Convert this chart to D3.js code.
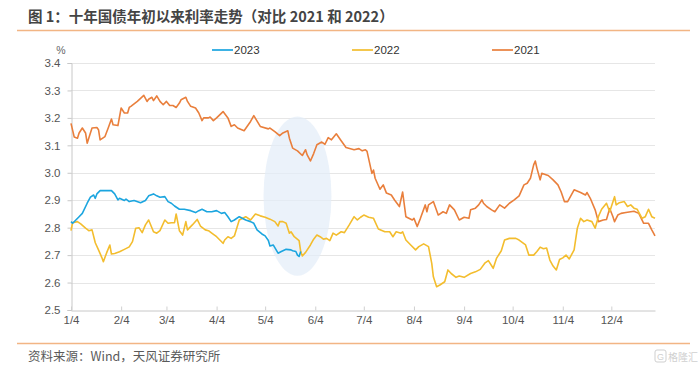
<!DOCTYPE html>
<html>
<head>
<meta charset="utf-8">
<script src="https://cdn.jsdelivr.net/npm/d3@7"></script>
<style>
  body { margin: 0; background: #fff; }
  svg { display: block; }
</style>
</head>
<body>
<svg id="chart"></svg>
<script>
// ---- data (month-day, 10Y CGB yield %) ----
const seriesNames = ["2023", "2022", "2021"];
const monthTicks = ["1/4", "2/4", "3/4", "4/4", "5/4", "6/4", "7/4", "8/4", "9/4", "10/4", "11/4", "12/4"];
const rateTicks = [2.5, 2.6, 2.7, 2.8, 2.9, 3.0, 3.1, 3.2, 3.3, 3.4];

const dates2023 = [
  "01-04", "01-05", "01-07", "01-09", "01-11", "01-14", "01-16", "01-18", "01-19", "01-20",
  "01-22", "01-25", "01-29", "01-31", "02-02", "02-03", "02-06", "02-07", "02-09", "02-12",
  "02-16", "02-19", "02-21", "02-24", "02-26", "02-28", "03-03", "03-05", "03-07", "03-09",
  "03-12", "03-15", "03-19", "03-22", "03-24", "03-26", "03-29", "04-01", "04-04", "04-07",
  "04-09", "04-11", "04-13", "04-15", "04-18", "04-22", "04-25", "04-27", "04-29", "05-02",
  "05-04", "05-06", "05-07", "05-09", "05-12", "05-14", "05-17", "05-20", "05-21", "05-23",
  "05-24", "05-25", "05-26"
];
const rates2023 = [
  2.822, 2.816, 2.828, 2.84, 2.852, 2.889, 2.911, 2.919, 2.907, 2.923,
  2.935, 2.935, 2.935, 2.923, 2.901, 2.907, 2.899, 2.904, 2.895, 2.899,
  2.891, 2.899, 2.916, 2.923, 2.916, 2.911, 2.913, 2.895, 2.889, 2.879,
  2.867, 2.867, 2.862, 2.855, 2.862, 2.867, 2.858, 2.858, 2.862, 2.852,
  2.855, 2.84, 2.822, 2.828, 2.84, 2.828, 2.822, 2.816, 2.792, 2.777,
  2.77, 2.753, 2.733, 2.737, 2.707, 2.713, 2.721, 2.719, 2.716, 2.713,
  2.70, 2.695, 2.713
];

const dates2022 = [
  "01-04", "01-05", "01-08", "01-10", "01-13", "01-15", "01-17", "01-19", "01-21", "01-23",
  "01-24", "01-26", "01-28", "01-29", "01-31", "02-03", "02-06", "02-09", "02-11", "02-13",
  "02-15", "02-17", "02-19", "02-21", "02-24", "02-26", "02-28", "03-03", "03-05", "03-07",
  "03-09", "03-10", "03-12", "03-14", "03-16", "03-17", "03-20", "03-23", "03-25", "03-28",
  "03-30", "04-01", "04-04", "04-08", "04-09", "04-11", "04-13", "04-15", "04-18", "04-22",
  "04-25", "04-28", "05-01", "05-04", "05-07", "05-10", "05-12", "05-13", "05-15", "05-17",
  "05-19", "05-20", "05-22", "05-25", "05-26", "05-27", "05-29", "06-01", "06-03", "06-05",
  "06-07", "06-09", "06-11", "06-13", "06-15", "06-17", "06-20", "06-22", "06-25", "06-28",
  "06-30", "07-02", "07-04", "07-07", "07-10", "07-13", "07-17", "07-20", "07-22", "07-24",
  "07-27", "07-28", "07-30", "08-02", "08-05", "08-07", "08-10", "08-13", "08-15", "08-16",
  "08-18", "08-20", "08-23", "08-25", "08-27", "08-30", "09-01", "09-04", "09-08", "09-11",
  "09-14", "09-17", "09-19", "09-22", "09-24", "09-27", "09-29", "10-02", "10-06", "10-08",
  "10-12", "10-14", "10-17", "10-19", "10-21", "10-23", "10-25", "10-27", "10-29", "10-31",
  "11-02", "11-04", "11-06", "11-08", "11-11", "11-13", "11-15", "11-17", "11-19", "11-22",
  "11-24", "11-26", "11-28", "12-01", "12-03", "12-04", "12-06", "12-07", "12-09", "12-12",
  "12-14", "12-16", "12-18", "12-20", "12-23", "12-25", "12-27", "12-29", "12-31"
];
const rates2022 = [
  2.789, 2.818, 2.822, 2.814, 2.798, 2.789, 2.792, 2.745, 2.719, 2.692,
  2.676, 2.708, 2.737, 2.704, 2.706, 2.712, 2.721, 2.73, 2.749, 2.798,
  2.80, 2.782, 2.81, 2.828, 2.785, 2.78, 2.789, 2.828, 2.816, 2.818,
  2.818, 2.85, 2.789, 2.773, 2.822, 2.792, 2.81, 2.83, 2.806, 2.792,
  2.789, 2.78, 2.767, 2.743, 2.755, 2.767, 2.761, 2.77, 2.828, 2.84,
  2.828, 2.85, 2.843, 2.838, 2.831, 2.822, 2.806, 2.822, 2.822, 2.816,
  2.78, 2.785, 2.767, 2.753, 2.713, 2.697, 2.71, 2.737, 2.758, 2.773,
  2.767, 2.758, 2.761, 2.753, 2.78, 2.773, 2.785, 2.782, 2.81, 2.84,
  2.828, 2.838, 2.846, 2.838, 2.834, 2.795, 2.785, 2.785, 2.767, 2.785,
  2.78, 2.785, 2.755, 2.737, 2.719, 2.731, 2.741, 2.731, 2.67, 2.621,
  2.585, 2.591, 2.603, 2.646, 2.633, 2.619, 2.624, 2.619, 2.633, 2.639,
  2.648, 2.672, 2.68, 2.652, 2.688, 2.716, 2.755, 2.761, 2.761, 2.755,
  2.737, 2.70, 2.70, 2.713, 2.729, 2.723, 2.726, 2.682, 2.66, 2.646,
  2.684, 2.69, 2.70, 2.686, 2.719, 2.798, 2.834, 2.822, 2.828, 2.822,
  2.798, 2.84, 2.867, 2.889, 2.858, 2.876, 2.913, 2.883, 2.891, 2.895,
  2.877, 2.883, 2.871, 2.867, 2.834, 2.84, 2.867, 2.84, 2.834
];

const dates2021 = [
  "01-04", "01-06", "01-08", "01-09", "01-11", "01-13", "01-14", "01-16", "01-17", "01-20",
  "01-21", "01-22", "01-25", "01-27", "01-29", "01-30", "02-02", "02-04", "02-06", "02-08",
  "02-09", "02-10", "02-14", "02-18", "02-20", "02-21", "02-23", "02-24", "02-26", "02-28",
  "03-02", "03-04", "03-06", "03-08", "03-10", "03-12", "03-13", "03-16", "03-17", "03-19",
  "03-22", "03-24", "03-26", "03-27", "03-30", "03-31", "04-02", "04-04", "04-08", "04-11",
  "04-13", "04-15", "04-17", "04-21", "04-25", "04-27", "05-01", "05-06", "05-07", "05-10",
  "05-13", "05-15", "05-18", "05-19", "05-21", "05-24", "05-27", "05-29", "05-30", "06-01",
  "06-03", "06-05", "06-08", "06-10", "06-12", "06-14", "06-17", "06-20", "06-23", "06-28",
  "07-01", "07-03", "07-05", "07-06", "07-09", "07-10", "07-11", "07-14", "07-16", "07-18",
  "07-21", "07-23", "07-26", "07-28", "07-30", "08-03", "08-04", "08-06", "08-08", "08-11",
  "08-12", "08-13", "08-16", "08-19", "08-22", "08-24", "08-26", "08-29", "09-01", "09-04",
  "09-07", "09-08", "09-11", "09-13", "09-15", "09-16", "09-18", "09-21", "09-23", "09-26",
  "09-29", "10-02", "10-05", "10-08", "10-11", "10-13", "10-15", "10-17", "10-18", "10-19",
  "10-21", "10-22", "10-25", "10-26", "10-29", "11-01", "11-03", "11-05", "11-07", "11-11",
  "11-15", "11-18", "11-19", "11-21", "11-24", "11-26", "11-29", "12-01", "12-03", "12-05",
  "12-06", "12-08", "12-10", "12-13", "12-18", "12-21", "12-24", "12-27", "12-29", "12-31"
];
const rates2021 = [
  3.18, 3.13, 3.126, 3.145, 3.163, 3.145, 3.108, 3.145, 3.163, 3.165,
  3.157, 3.12, 3.132, 3.163, 3.196, 3.175, 3.172, 3.236, 3.218, 3.218,
  3.238, 3.242, 3.26, 3.282, 3.26, 3.268, 3.275, 3.263, 3.28, 3.26,
  3.248, 3.26, 3.245, 3.245, 3.238, 3.254, 3.266, 3.275, 3.26, 3.242,
  3.236, 3.218, 3.19, 3.2, 3.2, 3.203, 3.19, 3.2, 3.223, 3.2,
  3.169, 3.175, 3.163, 3.153, 3.187, 3.208, 3.169, 3.16, 3.163, 3.15,
  3.135, 3.145, 3.153, 3.126, 3.09, 3.08, 3.063, 3.084, 3.065, 3.043,
  3.07, 3.102, 3.112, 3.104, 3.128, 3.12, 3.142, 3.117, 3.092, 3.084,
  3.088, 3.08, 3.084, 3.078, 2.998, 3.01, 2.98, 2.94, 2.956, 2.926,
  2.919, 2.901, 2.877, 2.93, 2.84, 2.828, 2.834, 2.804, 2.834, 2.883,
  2.858, 2.883, 2.895, 2.846, 2.858, 2.852, 2.883, 2.865, 2.828, 2.838,
  2.834, 2.865, 2.871, 2.883, 2.901, 2.889, 2.877, 2.865, 2.858, 2.883,
  2.871, 2.889, 2.901, 2.916, 2.956, 2.962, 2.98, 3.029, 3.043, 3.017,
  2.974, 2.998, 2.992, 2.99, 2.974, 2.956, 2.93, 2.895, 2.895, 2.938,
  2.928, 2.919, 2.928, 2.907, 2.865, 2.822, 2.828, 2.83, 2.87, 2.84,
  2.822, 2.846, 2.852, 2.855, 2.86, 2.852, 2.816, 2.816, 2.792, 2.77
];

const seriesColors = ["#1ba5df", "#f3bd2e", "#e97f3c"];

// ---- layout ----
const width = 700, height = 372;
const plot = { left: 71, right: 655, top: 63, bottom: 310 };
const parseDay = d3.timeParse("%m-%d");
const parseTick = d3.timeParse("%m/%d");

const svg = d3.select("#chart")
    .attr("width", width)
    .attr("height", height)
    .style("font-family", "'Liberation Sans', Arial, sans-serif");

const x = d3.scaleTime()
    .domain([parseDay("01-04"), parseDay("12-31")])
    .range([plot.left, plot.right]);
const y = d3.scaleLinear()
    .domain([2.5, 3.4])
    .range([plot.bottom, plot.top]);

// title + rule
svg.append("text")
    .attr("x", 28).attr("y", 22)
    .attr("font-family", "'Noto Sans CJK SC', sans-serif")
    .attr("font-size", "14.5px")
    .attr("font-weight", "bold")
    .attr("fill", "#444")
    .text("图 1：十年国债年初以来利率走势（对比 2021 和 2022）");
svg.append("line")
    .attr("x1", 17).attr("x2", 690).attr("y1", 30.5).attr("y2", 30.5)
    .attr("stroke", "#f2b584").attr("stroke-width", 1.5);

// gridlines
svg.append("g")
    .selectAll("line")
    .data(rateTicks.filter(t => t > 2.5))
    .enter()
    .append("line")
    .attr("x1", plot.left).attr("x2", plot.right)
    .attr("y1", d => Math.round(y(d)) + 0.5)
    .attr("y2", d => Math.round(y(d)) + 0.5)
    .attr("stroke", "#e6e6e6")
    .attr("stroke-width", 1);

// highlight ellipse around late May (in data units)
const hlCenter = parseDay("05-24");
svg.append("ellipse")
    .attr("cx", x(hlCenter))
    .attr("cy", y(2.915))
    .attr("rx", x(d3.timeDay.offset(hlCenter, 21)) - x(hlCenter))
    .attr("ry", y(2.915) - y(3.205))
    .attr("fill", "#e3edf8")
    .attr("opacity", 0.7);

// axes
const yAxis = svg.append("g")
    .attr("transform", `translate(${plot.left + 0.5},0)`)
    .call(d3.axisLeft(y).tickValues(rateTicks).tickFormat(d3.format(".1f")).tickSize(4).tickPadding(7));
yAxis.select(".domain").attr("stroke", "#c8c8c8");
yAxis.selectAll(".tick line").attr("stroke", "#c8c8c8");
yAxis.selectAll("text")
    .attr("font-size", "11.5px")
    .attr("fill", "#555")
    .attr("font-family", "'Liberation Sans', Arial, sans-serif");

const xAxis = svg.append("g")
    .attr("transform", `translate(0,${plot.bottom + 0.5})`)
    .call(d3.axisBottom(x).tickValues(monthTicks.map(parseTick))
        .tickFormat((d, i) => monthTicks[i]).tickSizeInner(-4).tickSizeOuter(0).tickPadding(5));
xAxis.select(".domain").attr("stroke", "#c8c8c8");
xAxis.selectAll(".tick line").attr("stroke", "#d0d0d0");
xAxis.selectAll("text")
    .attr("font-size", "11.5px")
    .attr("fill", "#555")
    .attr("font-family", "'Liberation Sans Narrow', 'Liberation Sans', Arial, sans-serif");

svg.append("text")
    .attr("x", 61).attr("y", 54)
    .attr("text-anchor", "middle")
    .attr("font-size", "10.5px")
    .attr("fill", "#666")
    .text("%");

// lines
const lineFun = d3.line()
    .x(d => x(d.date))
    .y(d => y(d.rate))
    .curve(d3.curveLinear);

const allSeries = [
    { name: seriesNames[2], dates: dates2021, rates: rates2021, color: seriesColors[2] },
    { name: seriesNames[1], dates: dates2022, rates: rates2022, color: seriesColors[1] },
    { name: seriesNames[0], dates: dates2023, rates: rates2023, color: seriesColors[0] }
];
allSeries.forEach(s => {
    const pts = s.dates.map((d, i) => ({ date: parseDay(d), rate: s.rates[i] }));
    svg.append("path")
        .attr("d", lineFun(pts))
        .attr("fill", "none")
        .attr("stroke", s.color)
        .attr("stroke-width", 1.6)
        .attr("stroke-linejoin", "round");
});

// legend
const legendX = [212, 352, 492];
const legend = svg.append("g")
    .selectAll("g")
    .data(seriesNames)
    .enter()
    .append("g")
    .attr("transform", (d, i) => `translate(${legendX[i]},50)`);
legend.append("line")
    .attr("x1", 0).attr("x2", 21)
    .attr("stroke", (d, i) => seriesColors[i])
    .attr("stroke-width", 1.7);
legend.append("text")
    .attr("x", 22).attr("dy", "0.35em")
    .attr("font-size", "11.5px")
    .attr("fill", "#333")
    .text(d => d);

// footer
svg.append("line")
    .attr("x1", 17).attr("x2", 690).attr("y1", 343.5).attr("y2", 343.5)
    .attr("stroke", "#f2b584").attr("stroke-width", 1.5);
svg.append("text")
    .attr("x", 28).attr("y", 361)
    .attr("font-family", "'Noto Sans CJK SC', sans-serif")
    .attr("font-size", "12.5px")
    .attr("fill", "#5a5a5a")
    .text("资料来源：Wind，天风证券研究所");

// watermark
const wm = svg.append("g").attr("transform", "translate(655,350)").attr("opacity", 0.55);
wm.append("rect")
    .attr("width", 11).attr("height", 12).attr("rx", 2)
    .attr("fill", "none").attr("stroke", "#aaa");
wm.append("text")
    .attr("x", 5.5).attr("y", 10).attr("text-anchor", "middle")
    .attr("font-size", "9px").attr("fill", "#aaa").text("G");
wm.append("text")
    .attr("x", 13).attr("y", 10.5)
    .attr("font-family", "'Noto Sans CJK SC', sans-serif")
    .attr("font-size", "10px").attr("fill", "#aaa").text("格隆汇");
</script>
</body>
</html>
